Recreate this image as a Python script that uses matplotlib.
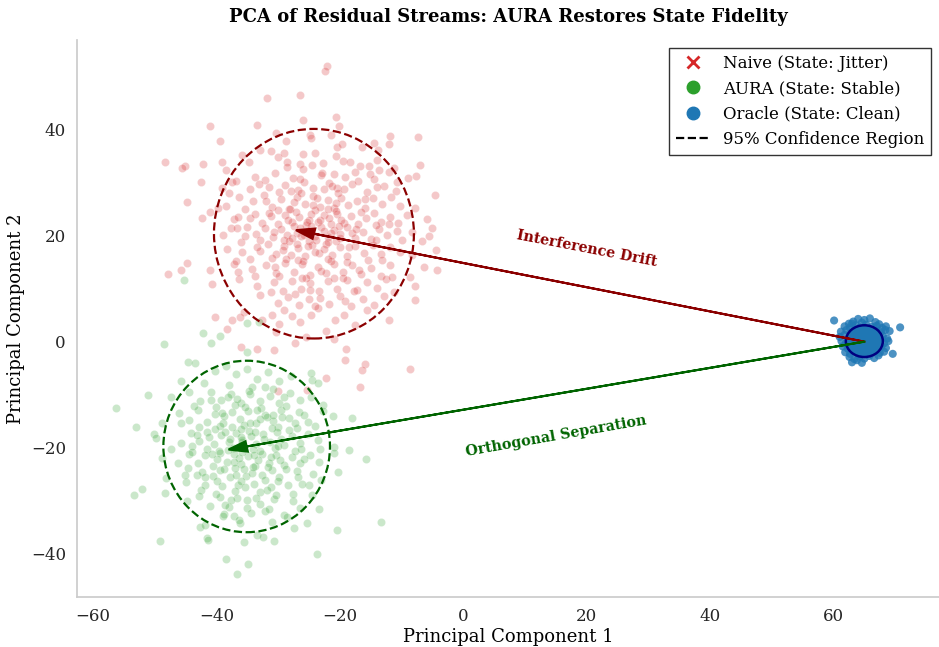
import numpy as np
import matplotlib
matplotlib.use("Agg")
import matplotlib.pyplot as plt
from matplotlib.patches import Ellipse
from matplotlib.lines import Line2D

plt.rcParams['font.family'] = ['DejaVu Serif']

# ---------------- data ----------------
naive_points = [
    (-31.8, 46.1), (-26.4, 46.6), (-22.1, 52.0), (-22.4, 51.2), (-20.6, 42.5), (-20.2, 40.8), (-26.0, 41.9),
    (-33.4, 40.9), (-41.0, 40.8), (-39.5, 37.9), (-24.8, 39.1), (-30.4, 39.4), (-28.7, 37.9), (-21.5, 39.1),
    (-24.7, 38.4), (-11.9, 38.9), (-7.4, 38.6), (-12.0, 37.3), (-14.4, 37.5), (-13.8, 36.3), (-16.4, 36.8),
    (-20.4, 36.8), (-19.6, 37.4),
    (-24.1, 35.7), (-20.6, 35.1), (-48.3, 34.0), (-45.1, 33.2), (-45.6, 32.9), (-42.2, 33.6), (-39.1, 34.0),
    (-38.5, 32.4), (-34.8, 34.0), (-32.9, 36.2), (-31.2, 36.0), (-30.0, 34.8), (-29.1, 35.6), (-28.5, 33.9),
    (-25.9, 35.4), (-26.5, 33.5), (-26.0, 32.6), (-16.8, 33.2), (-15.3, 33.2), (-14.0, 34.3), (-13.7, 32.5),
    (-12.1, 32.0), (-11.3, 32.9), (-7.0, 33.4), (-17.5, 32.1), (-22.8, 33.8), (-19.5, 34.2), (-35.9, 35.2),
    (-15.1, 31.6), (-14.5, 30.7), (-9.0, 30.9), (-37.4, 30.1), (-36.8, 30.4), (-39.1, 29.1), (-38.0, 28.0),
    (-36.4, 27.4), (-33.8, 31.2), (-32.2, 30.5), (-30.5, 31.8), (-28.9, 29.6), (-27.6, 31.0), (-25.8, 30.2),
    (-24.3, 29.1), (-23.0, 31.5), (-21.8, 30.0), (-20.5, 29.0), (-19.2, 31.1), (-18.1, 29.7), (-17.0, 30.3),
    (-22.5, 28.8), (-26.8, 28.6), (-29.8, 28.3), (-34.6, 28.9), (-12.8, 29.5), (-10.9, 28.4), (-31.5, 29.2),
    (-20.9, 31.6), (-42.5, 30.2), (-7.6, 31.3),
    (-4.5, 27.7), (-7.8, 25.2), (-39.7, 25.2), (-41.0, 24.5), (-34.0, 26.5), (-32.3, 27.8), (-31.0, 25.4),
    (-29.5, 26.9), (-28.2, 25.1), (-27.0, 27.3), (-25.6, 26.1), (-24.4, 27.6), (-23.2, 25.5), (-22.0, 26.8),
    (-21.0, 25.3), (-19.8, 27.2), (-18.6, 25.8), (-17.3, 26.6), (-16.0, 25.2), (-14.6, 27.1), (-13.2, 26.0),
    (-11.7, 27.4), (-10.2, 25.6), (-26.3, 28.0), (-20.3, 28.1), (-15.6, 28.2), (-30.1, 24.9), (-35.4, 25.0),
    (-24.0, 24.8), (-44.8, 26.4),
    (-42.3, 23.4), (-37.2, 23.2), (-36.5, 23.6), (-34.5, 23.3), (-33.7, 24.1), (-5.8, 23.1), (-32.6, 22.4),
    (-31.2, 23.8), (-30.0, 22.3), (-28.9, 24.0), (-27.7, 22.6), (-26.7, 23.5), (-25.5, 22.1), (-24.6, 24.2),
    (-23.6, 22.7), (-22.6, 23.9), (-21.5, 22.3), (-20.4, 24.1), (-19.3, 22.5), (-18.2, 23.7), (-17.0, 22.2),
    (-15.8, 23.4), (-14.5, 24.3), (-13.3, 22.6), (-11.9, 23.5), (-10.6, 22.4), (-9.1, 23.9), (-25.0, 23.0),
    (-22.0, 25.0), (-28.0, 25.0), (-19.8, 23.0), (-16.5, 24.5),
    (-37.7, 21.4), (-5.1, 21.4), (-5.5, 20.0), (-6.7, 19.0), (-8.3, 20.7), (-39.0, 20.2), (-35.0, 21.7),
    (-33.6, 20.3), (-32.1, 21.5), (-30.8, 19.8), (-29.6, 21.2), (-28.5, 20.1), (-27.4, 21.8), (-26.3, 19.9),
    (-25.2, 21.0), (-24.1, 20.0), (-23.1, 21.6), (-22.0, 19.7), (-20.9, 21.1), (-19.9, 20.3), (-18.8, 21.7),
    (-17.6, 19.6), (-16.3, 20.8), (-15.0, 19.4), (-13.6, 21.3), (-12.3, 20.1), (-10.7, 21.0), (-24.6, 21.8),
    (-21.5, 20.6), (-27.0, 20.6), (-29.0, 19.3), (-18.0, 20.5), (-33.0, 19.2), (-14.2, 22.0),
    (-36.1, 18.8), (-35.8, 16.9), (-4.4, 17.3), (-8.3, 16.4), (-38.3, 17.5), (-33.0, 17.2), (-31.7, 18.5),
    (-30.3, 16.6), (-29.1, 18.0), (-27.9, 16.3), (-26.8, 17.7), (-25.6, 16.1), (-24.5, 18.2), (-23.4, 16.7),
    (-22.3, 18.4), (-21.2, 16.4), (-20.0, 17.9), (-18.8, 16.2), (-17.5, 18.1), (-16.1, 16.8), (-14.7, 18.3),
    (-13.3, 16.5), (-11.8, 17.8), (-10.2, 16.9), (-25.0, 19.0), (-20.6, 19.0), (-28.3, 19.0), (-15.5, 15.5),
    (-34.5, 15.6),
    (-34.2, 13.8), (-37.2, 14.6), (-36.9, 15.2), (-41.0, 13.6), (-45.8, 13.5), (-47.9, 12.7), (-6.4, 14.1),
    (-4.3, 13.6), (-8.6, 12.2), (-31.9, 14.4), (-30.4, 12.9), (-28.9, 14.9), (-27.5, 13.1), (-26.1, 14.6),
    (-24.8, 12.6), (-23.5, 14.2), (-22.2, 12.9), (-20.9, 14.7), (-19.5, 13.2), (-18.0, 14.5), (-16.6, 12.8),
    (-15.0, 14.0), (-13.4, 12.5), (-11.9, 14.4), (-21.5, 15.3), (-26.8, 15.5), (-31.0, 15.8), (-44.7, 14.8),
    (-40.8, 10.9), (-36.3, 11.9), (-33.4, 10.6), (-7.9, 10.6), (-30.7, 11.3), (-29.2, 9.6), (-27.8, 11.5),
    (-26.3, 9.9), (-24.9, 11.1), (-23.4, 9.5), (-22.0, 11.4), (-20.5, 10.0), (-18.9, 11.6), (-17.3, 9.8),
    (-15.6, 11.2), (-14.0, 10.1), (-12.5, 11.8), (-11.2, 9.3), (-25.5, 12.0), (-19.5, 12.0),
    (-32.9, 8.9), (-7.8, 7.8), (-23.2, 8.2), (-30.0, 7.4), (-28.4, 8.5), (-26.7, 6.9), (-25.0, 8.0),
    (-21.7, 7.2), (-20.0, 8.7), (-18.2, 6.8), (-16.3, 8.1), (-14.4, 7.0), (-23.5, 6.3), (-35.6, 5.7),
    (-15.6, 5.9), (-12.8, 8.6), (-40.3, 4.7),
    (-36.2, 4.6), (-37.5, 4.0), (-38.3, 2.4), (-32.6, 4.0), (-31.0, 5.1), (-29.9, 3.4), (-30.4, 1.8),
    (-26.4, 3.7), (-12.1, 4.0), (-19.4, 5.1), (-22.2, 2.1), (-21.0, 0.5), (-24.7, 5.0), (-27.8, 4.9),
    (-17.5, 3.2), (-20.8, 4.0),
    (-36.1, -1.1), (-33.4, -1.4), (-30.7, -1.5), (-19.0, -1.3), (-19.1, -3.5), (-15.9, -4.2), (-8.6, -5.2),
    (-16.4, -5.3), (-25.5, 0.8), (-27.3, -0.3), (-22.3, -6.8), (-16.7, -8.5), (-30.0, -9.3), (-25.3, -9.1),
    # denser core
    (-25.3, 22.6), (-23.8, 19.2), (-26.9, 18.4), (-21.7, 23.3), (-28.4, 22.9), (-22.6, 17.5), (-19.9, 19.6),
    (-24.3, 25.8), (-27.5, 26.4), (-20.7, 26.2), (-30.6, 20.7), (-17.4, 21.2), (-25.9, 15.2), (-23.1, 13.4),
    (-28.7, 15.6), (-18.9, 15.1), (-31.5, 24.3), (-26.4, 30.8), (-21.3, 29.5), (-29.8, 12.5), (-16.9, 13.6),
    (-33.4, 17.9), (-14.2, 19.2), (-24.9, 9.8), (-22.9, 31.9), (-25.8, 20.2), (-23.2, 22.9), (-27.1, 24.5),
    (-20.1, 21.9), (-29.2, 17.3), (-18.5, 17.9), (-26.2, 12.1), (-21.9, 15.6), (-31.9, 26.5), (-15.9, 26.9),
    (-27.9, 28.4), (-19.4, 28.9), (-24.0, 16.9), (-22.5, 20.9), (-26.5, 21.4), (-30.5, 14.2), (-13.1, 15.5),
    (-35.3, 20.0), (-12.0, 22.3), (-24.5, 33.4), (-28.6, 33.0), (-18.3, 33.9), (-33.1, 29.8), (-14.0, 29.2),
    (-23.7, 27.1), (-21.0, 12.1), (-27.3, 9.1), (-17.7, 9.5), (-31.2, 9.3), (-33.8, 12.5), (-11.6, 12.2),
    (-24.1, 6.7), (-19.1, 7.6), (-29.1, 5.9), (-36.7, 21.5), (-9.9, 19.3), (-38.4, 25.6), (-10.8, 30.1),
    (-36.5, 13.2), (-25.1, 18.0), (-22.0, 18.9), (-27.7, 19.6), (-20.6, 24.6),
]

aura_points = [
    (-45.2, 11.6), (-42.1, 1.6), (-39.4, 1.1), (-40.9, -0.3), (-48.5, -0.4), (-35.1, 3.6), (-33.1, 3.8),
    (-35.0, -1.9),
    (-44.6, -3.9), (-43.5, -4.0), (-45.7, -7.4), (-40.2, -5.5), (-38.5, -4.6), (-36.8, -6.1), (-35.0, -5.2),
    (-33.5, -7.0), (-31.6, -5.8), (-29.8, -7.5), (-27.9, -6.4), (-24.5, -7.3), (-23.5, -7.8), (-24.6, -6.0),
    (-42.0, -7.8), (-38.0, -8.2), (-34.2, -8.6), (-30.9, -8.9),
    (-51.1, -10.1), (-47.4, -10.4), (-44.4, -9.6), (-42.6, -11.2), (-40.9, -9.5), (-39.3, -11.0), (-37.6, -9.8),
    (-36.0, -11.5), (-34.5, -9.9), (-33.0, -11.3), (-31.4, -10.2), (-29.8, -11.6), (-28.1, -9.7), (-26.5, -11.0),
    (-24.7, -10.5), (-22.8, -11.9), (-37.0, -12.0), (-40.0, -12.3), (-32.2, -8.5),
    (-56.2, -12.6), (-48.9, -15.3), (-46.0, -13.4), (-44.5, -14.8), (-43.0, -13.0), (-41.6, -15.1), (-40.2, -13.6),
    (-38.9, -15.3), (-37.5, -13.2), (-36.2, -14.7), (-34.9, -13.1), (-33.6, -15.4), (-32.2, -13.8), (-30.9, -15.0),
    (-29.5, -12.9), (-28.2, -14.5), (-26.7, -13.3), (-25.2, -15.2), (-22.8, -13.1), (-21.1, -14.0), (-18.1, -14.4),
    (-35.5, -15.8), (-39.5, -16.0), (-30.0, -16.1), (-42.8, -16.2), (-27.0, -16.4),
    (-53.0, -16.2), (-50.2, -17.5), (-49.8, -18.2), (-47.4, -20.2), (-45.7, -19.1), (-44.2, -17.2), (-42.9, -18.8),
    (-41.6, -17.0), (-40.4, -19.4), (-39.2, -17.6), (-38.0, -19.0), (-36.9, -17.3), (-35.8, -18.6), (-34.7, -16.9),
    (-33.6, -19.3), (-32.5, -17.5), (-31.4, -18.9), (-30.2, -17.1), (-29.0, -19.5), (-27.8, -17.8), (-26.5, -19.2),
    (-25.1, -17.4), (-23.6, -18.6), (-20.9, -19.9), (-18.5, -20.5), (-37.3, -20.0), (-34.0, -20.2), (-30.5, -20.1),
    (-41.5, -20.3), (-28.3, -16.6), (-36.0, -16.5),
    (-48.8, -21.9), (-46.3, -22.9), (-44.5, -21.2), (-43.0, -23.0), (-41.8, -21.5), (-40.6, -23.4), (-39.4, -21.0),
    (-38.3, -22.7), (-37.1, -21.3), (-36.0, -23.2), (-34.9, -21.6), (-33.8, -23.5), (-32.6, -21.2), (-31.5, -22.9),
    (-30.3, -21.4), (-29.1, -23.3), (-27.8, -21.8), (-26.4, -23.0), (-24.9, -21.5), (-23.3, -22.8), (-15.7, -22.2),
    (-20.9, -21.0), (-35.5, -24.0), (-31.0, -24.2), (-39.5, -24.3), (-27.0, -24.4),
    (-48.1, -25.7), (-20.3, -24.6), (-45.0, -26.5), (-43.2, -25.1), (-41.9, -27.0), (-40.5, -25.4), (-39.1, -27.3),
    (-37.8, -25.6), (-36.5, -27.1), (-35.2, -25.3), (-33.9, -26.9), (-32.6, -25.2), (-31.2, -27.4), (-29.8, -25.6),
    (-28.4, -27.1), (-26.8, -25.5), (-25.0, -27.0), (-23.1, -26.2), (-37.0, -28.2), (-33.0, -28.4), (-42.5, -28.0),
    (-52.1, -27.8), (-53.3, -29.0), (-48.3, -28.6), (-44.8, -30.1), (-42.8, -29.2), (-41.0, -31.0), (-39.5, -29.4),
    (-38.0, -31.2), (-36.6, -29.6), (-35.1, -31.4), (-33.6, -29.5), (-32.1, -32.0), (-30.6, -29.8), (-29.1, -32.7),
    (-27.6, -30.1), (-26.4, -31.4), (-23.3, -31.7), (-24.5, -29.0), (-34.4, -32.4), (-38.7, -32.6),
    (-42.6, -35.1), (-41.8, -34.6), (-39.0, -33.0), (-37.1, -33.0), (-36.2, -34.3), (-33.4, -36.6), (-32.4, -36.9),
    (-30.6, -37.6), (-27.5, -35.2), (-25.3, -34.2), (-20.5, -35.6), (-13.3, -34.1), (-35.6, -37.9), (-41.6, -37.0),
    (-41.3, -37.5), (-49.1, -37.7), (-31.0, -34.0), (-28.5, -33.2),
    (-38.4, -41.1), (-36.6, -43.9), (-34.9, -42.0), (-23.7, -40.1),
    (-38.8, -14.1), (-35.3, -12.4), (-31.8, -14.3), (-28.8, -12.2), (-41.2, -18.1), (-37.8, -18.3), (-34.4, -17.8),
    (-31.0, -16.3), (-27.2, -20.6), (-39.9, -22.2), (-36.4, -22.0), (-33.2, -22.4), (-29.7, -22.3), (-25.8, -22.1),
    (-42.3, -24.6), (-38.7, -24.1), (-34.3, -24.9), (-30.1, -26.4), (-27.6, -28.8), (-36.0, -26.3), (-40.1, -28.7),
    (-32.9, -30.6), (-44.0, -19.8), (-43.6, -12.1), (-32.8, -12.6), (-38.2, -10.5), (-29.3, -14.2), (-24.0, -16.0),
    (-23.2, -20.3), (-44.6, -23.8), (-37.6, -29.9), (-31.8, -28.0), (-35.8, -20.9), (-33.0, -14.6), (-39.6, -20.6),
    (-26.1, -26.8),
    # denser core
    (-35.9, -19.0), (-33.9, -21.4), (-37.2, -22.8), (-32.3, -18.4), (-38.6, -17.1), (-34.6, -15.3), (-31.1, -21.7),
    (-36.9, -25.1), (-40.8, -21.3), (-29.6, -18.3), (-35.3, -27.5), (-33.5, -12.9), (-39.1, -13.5), (-28.8, -24.1),
    (-41.9, -25.6), (-30.9, -13.9), (-36.6, -10.9), (-43.1, -17.7), (-27.2, -15.3), (-32.1, -26.1), (-37.4, -16.2),
    (-34.1, -23.6), (-36.1, -18.0), (-33.0, -20.7), (-38.2, -20.4), (-31.7, -23.6), (-39.9, -26.4), (-30.4, -28.9),
    (-26.3, -20.3), (-43.9, -20.9), (-35.0, -30.0), (-34.8, -9.4), (-29.0, -10.4), (-40.9, -11.1), (-25.8, -13.8),
    (-45.7, -15.3), (-45.1, -25.1), (-24.4, -25.0), (-38.6, -30.8), (-31.5, -31.7), (-36.3, -33.7), (-33.7, -17.0),
    (-37.0, -23.9), (-30.0, -19.7), (-40.3, -16.5),
]

oracle_points = [
    (60.1, 4.0), (70.8, 2.7), (69.1, 2.0), (69.6, -2.3), (63.0, -3.9), (64.6, -4.0),
    (63.2, 3.8), (64.0, 4.3), (65.0, 4.1), (65.9, 4.4), (66.8, 3.7), (62.5, 3.4), (64.6, 3.6), (67.4, 3.3),
    (61.8, 2.9), (62.7, 2.6), (63.6, 3.1), (64.3, 2.7), (65.3, 3.2), (66.2, 2.8), (67.0, 3.0), (67.9, 2.6),
    (68.5, 2.9), (63.0, 3.4),
    (61.2, 1.9), (62.1, 2.2), (62.9, 1.7), (63.7, 2.3), (64.5, 1.8), (65.4, 2.4), (66.1, 1.6), (66.9, 2.1),
    (67.7, 1.8), (68.4, 2.2), (65.8, 2.0), (63.3, 2.0),
    (61.0, 0.9), (61.8, 1.3), (62.6, 0.7), (63.4, 1.2), (64.1, 0.6), (64.9, 1.4), (65.6, 0.8), (66.4, 1.3),
    (67.2, 0.7), (68.0, 1.1), (68.7, 0.6), (64.6, 1.0), (66.0, 0.5),
    (61.3, 0.1), (62.0, -0.3), (62.8, 0.3), (63.6, -0.2), (64.4, 0.2), (65.1, -0.4), (65.9, 0.3), (66.7, -0.1),
    (67.5, 0.4), (68.2, -0.3), (68.9, 0.1), (65.0, 0.0), (63.1, -0.1),
    (61.5, -0.9), (62.3, -1.3), (63.1, -0.8), (63.9, -1.2), (64.7, -0.7), (65.4, -1.3), (66.2, -0.9), (67.0, -1.4),
    (67.8, -0.8), (68.5, -1.2), (64.2, -1.0), (66.6, -0.6),
    (61.9, -2.0), (62.7, -2.3), (63.5, -1.8), (64.3, -2.4), (65.1, -1.9), (65.9, -2.2), (66.7, -1.7), (67.5, -2.1),
    (68.2, -1.9), (64.6, -1.6),
    (62.6, -2.9), (63.4, -3.3), (64.2, -2.8), (65.0, -3.2), (65.8, -2.7), (66.6, -3.1), (67.3, -2.6), (63.8, -3.5),
]

# 95% confidence regions: (center x, center y, width, height)
naive_region = (-24.2, 20.4, 32.4, 39.6)
aura_region = (-35.1, -19.8, 27.0, 32.4)
oracle_region = (65.0, 0.1, 6.0, 6.0)

legend_labels = ["Naive (State: Jitter)", "AURA (State: Stable)",
                 "Oracle (State: Clean)", "95% Confidence Region"]
drift_label = "Interference Drift"
sep_label = "Orthogonal Separation"
title = "PCA of Residual Streams: AURA Restores State Fidelity"

# ---------------- plotting ----------------
RED, GREEN, BLUE = "#d62728", "#2ca02c", "#1f77b4"

fig = plt.figure(figsize=(9.39, 6.47), dpi=100)
ax = fig.add_axes([0.082, 0.0768, 0.918, 0.8614])

naive = np.array(naive_points)
aura = np.array(aura_points)
oracle = np.array(oracle_points)

ax.scatter(naive[:, 0], naive[:, 1], s=34, color=RED, alpha=0.25,
           edgecolors="white", linewidths=0.5, zorder=2)
ax.scatter(aura[:, 0], aura[:, 1], s=34, color=GREEN, alpha=0.25,
           edgecolors="white", linewidths=0.5, zorder=2)
ax.scatter(oracle[:, 0], oracle[:, 1], s=34, color=BLUE, alpha=0.8,
           edgecolors="none", zorder=3)

for (cx, cy, w, h), col in [(naive_region, "darkred"), (aura_region, "darkgreen")]:
    ax.add_patch(Ellipse((cx, cy), w, h, facecolor="none", edgecolor=col,
                         linestyle="--", linewidth=1.6, zorder=4))
cx, cy, w, h = oracle_region
ax.add_patch(Ellipse((cx, cy), w, h, facecolor=BLUE, edgecolor="navy",
                     linewidth=1.8, zorder=4))

ox, oy = oracle_region[0], 0.0
for (tx, ty, _, _), col in [(naive_region, "darkred"), (aura_region, "darkgreen")]:
    ax.arrow(ox, oy, tx - ox, ty - oy, head_width=2.0, head_length=3.0,
             fc=col, ec=col, linewidth=1.5, zorder=5)

ax.text(20.0, 17.6, drift_label, color="darkred", fontsize=10.3, fontweight="bold",
        rotation=-11, ha="center", va="center", rotation_mode="anchor")
ax.text(15.1, -17.8, sep_label, color="darkgreen", fontsize=10.3, fontweight="bold",
        rotation=10, ha="center", va="center", rotation_mode="anchor")

ax.set_xlim(-62.6, 77.1)
ax.set_ylim(-48.3, 57.0)
ax.set_title(title, fontsize=13, fontweight="bold", pad=13)
ax.set_xlabel("Principal Component 1", fontsize=13, labelpad=2)
ax.set_ylabel("Principal Component 2", fontsize=13)
ax.tick_params(axis="both", length=0, labelsize=12, colors="#262626", pad=8)
for side in ["top", "right"]:
    ax.spines[side].set_visible(False)
for side in ["left", "bottom"]:
    ax.spines[side].set_color("#cccccc")
    ax.spines[side].set_linewidth(1.25)

handles = [
    Line2D([], [], marker="x", color=RED, linestyle="none", markersize=8, markeredgewidth=2),
    Line2D([], [], marker="o", color=GREEN, linestyle="none", markersize=9),
    Line2D([], [], marker="o", color=BLUE, linestyle="none", markersize=9),
    Line2D([], [], color="black", linestyle="--", linewidth=1.6),
]
leg = ax.legend(handles, legend_labels, loc="upper right", fontsize=12, frameon=True,
                fancybox=False, framealpha=1.0, borderpad=0.4, handletextpad=0.8)
leg.get_frame().set_edgecolor("#333333")
leg.get_frame().set_linewidth(1.0)

fig.savefig("out.png", dpi=100)
